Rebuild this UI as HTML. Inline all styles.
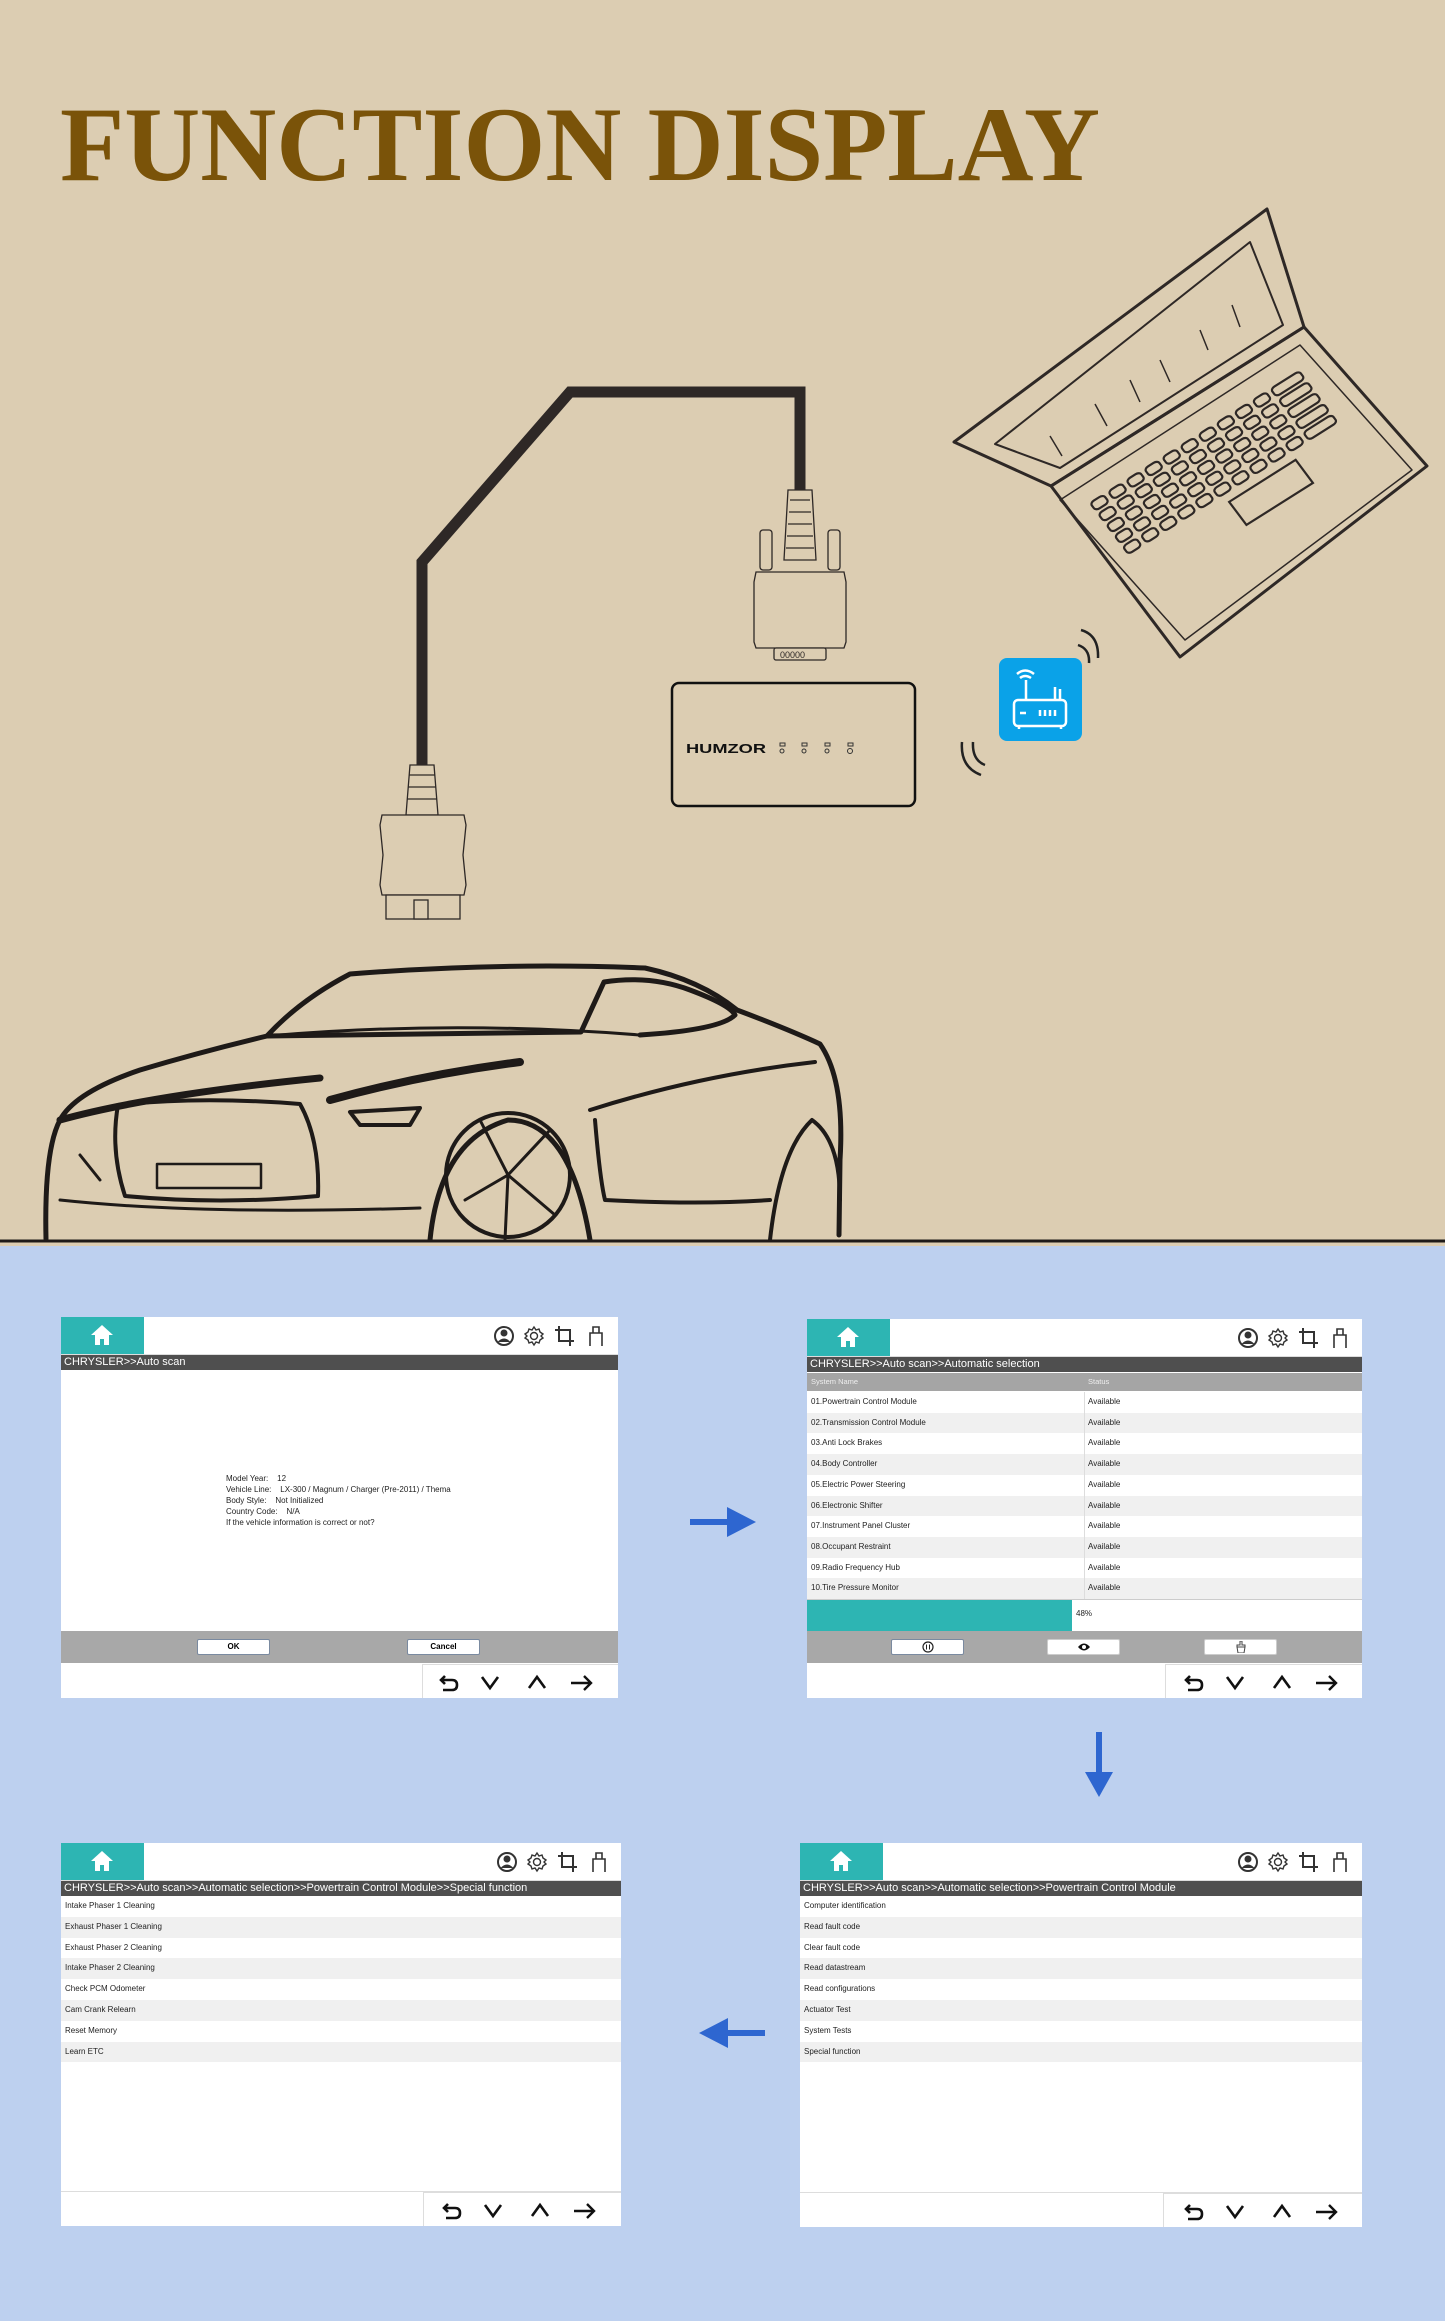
<!DOCTYPE html>
<html><head><meta charset="utf-8">
<style>
*{margin:0;padding:0;box-sizing:border-box}
body{width:1445px;height:2321px;position:relative;overflow:hidden;background:#bdd0ef;font-family:"Liberation Sans",Arial,sans-serif}
#top{position:absolute;left:0;top:0;width:1445px;height:1246px;background:#dccdb2}
.scr{position:absolute;background:#fff;overflow:hidden}
.home{position:absolute;left:0;top:0;width:83px;height:37px;background:#2db5b3}
.home svg{position:absolute;left:30px;top:8px}
.hline{position:absolute;left:0;right:0;top:37px;height:2px;background:#ddd}
.bar{position:absolute;left:0;right:0;top:38px;height:15px;background:#4f4f4f;color:#fff;font-size:11px;line-height:14px;padding-left:3px;white-space:nowrap}
.icons{position:absolute;right:4px;top:8px}
.nav{position:absolute;right:0;bottom:0;height:34px;border-left:1px solid #ddd;border-top:1px solid #ddd}
.row{position:absolute;left:0;right:0;height:20.8px;font-size:8px;line-height:20.8px;padding-left:4px;color:#222;white-space:nowrap}
.row:nth-child(even){background:#f0f0f0}
.gray{position:absolute;left:0;right:0;height:32px;background:#a8a8a8}
.btn{position:absolute;top:8px;height:16px;background:#fff;border:1px solid #7a8aa0;border-radius:2px;font-size:8px;font-weight:bold;text-align:center;line-height:14px}
</style></head><body>
<svg width="0" height="0" style="position:absolute">
<defs>
<symbol id="hi" viewBox="0 0 120 22">
<circle cx="10" cy="11" r="9" fill="none" stroke="#333" stroke-width="2"/><circle cx="10" cy="8" r="3.5" fill="#333"/><path d="M3.5 17 Q10 10 16.5 17" fill="#333"/>
<g transform="translate(40,11)" fill="none" stroke="#333" stroke-width="1.4"><circle r="3.5"/><path d="M0-9 L2-6 L5-7 L6-4 L9-2 L7 0 L9 2 L6 4 L5 7 L2 6 L0 9 L-2 6 L-5 7 L-6 4 L-9 2 L-7 0 L-9-2 L-6-4 L-5-7 L-2-6Z"/></g>
<path d="M65 1 V16 H80 M61 5 H76 V21" fill="none" stroke="#333" stroke-width="2"/>
<path d="M96 21 V8 H108 V21 M99 8 V2 H105 V8" fill="none" stroke="#333" stroke-width="1.6"/>
</symbol>
<symbol id="nv" viewBox="0 0 160 22">
<path d="M6 4 L2 8 L6 12 M2 8 H13 Q18 8 18 13 Q18 18 13 18 H4" fill="none" stroke="#111" stroke-width="2.6"/>
<path d="M43 5 L51 16 L59 5" fill="none" stroke="#111" stroke-width="2.6"/>
<path d="M90 16 L98 5 L106 16" fill="none" stroke="#111" stroke-width="2.6"/>
<path d="M132 11 H151 M145 4 L152 11 L145 18" fill="none" stroke="#111" stroke-width="2.4"/>
</symbol>
<symbol id="house" viewBox="0 0 22 20"><path d="M11 0 L22 10 H18 V20 H13 V14 H9 V20 H4 V10 H0Z" fill="#fff"/></symbol>
</defs></svg>

<div id="top">
<svg width="1445" height="1246" style="position:absolute;left:0;top:0">
<text x="60" y="180" font-family="Liberation Serif,serif" font-weight="bold" font-size="106" fill="#7a5309" textLength="1040" lengthAdjust="spacingAndGlyphs">FUNCTION DISPLAY</text>
<polyline points="422,765 422,562 570,392 800,392 800,492" fill="none" stroke="#2e2826" stroke-width="11"/>
<g fill="#dccdb2" stroke="#2e2826" stroke-width="1.3">
<path d="M788 490 h24 l4 70 h-32z"/>
<path d="M790 500 h20 M789 512 h22 M788 524 h24 M787 536 h26 M786 548 h28" />
<rect x="760" y="530" width="12" height="40" rx="3"/><rect x="828" y="530" width="12" height="40" rx="3"/>
<path d="M756 572 h88 l2 10 v60 l-2 6 h-88 l-2-6 v-60z"/>
<rect x="774" y="648" width="52" height="12" rx="2"/>
<text x="780" y="658" font-size="9" fill="#2e2826" stroke="none" font-family="Liberation Sans,sans-serif">00000</text>
</g>
<g fill="#dccdb2" stroke="#2e2826" stroke-width="1.3">
<path d="M410 765 h24 l4 50 h-32z"/>
<path d="M409 775 h26 M408 787 h28 M407 799 h30"/>
<path d="M382 815 h82 l2 10 l-3 30 l3 30 l-2 10 h-82 l-2-10 l3-30 l-3-30z"/>
<rect x="386" y="895" width="74" height="24"/>
<rect x="414" y="900" width="14" height="19"/>
</g>
<rect x="672" y="683" width="243" height="123" rx="7" fill="none" stroke="#111" stroke-width="2.5"/>
<text x="686" y="753" font-family="Liberation Sans,sans-serif" font-weight="bold" font-size="13" fill="#111" textLength="80" lengthAdjust="spacingAndGlyphs">HUMZOR</text>
<g fill="none" stroke="#333" stroke-width="1"><rect x="780" y="743" width="5" height="3"/><rect x="802" y="743" width="5" height="3"/><rect x="825" y="743" width="5" height="3"/><rect x="848" y="743" width="5" height="3"/><circle cx="782" cy="751" r="2"/><circle cx="804" cy="751" r="2"/><circle cx="827" cy="751" r="2"/><circle cx="850" cy="751" r="2.5"/></g>
<rect x="999" y="658" width="83" height="83" rx="8" fill="#0aa2e8"/>
<g fill="none" stroke="#fff" stroke-width="2.5"><rect x="1014" y="700" width="52" height="26" rx="4"/><path d="M1026 700 V680 M1055 700 V687 M1060 700 V689"/><path d="M1017 674 q8-7 17 0 M1020 678 q5-4 11 0"/><path d="M1020 713 h6 M1040 710 v6 M1045 710 v6 M1050 710 v6 M1055 710 v6"/><path d="M1019 726 v3 M1061 726 v3"/></g>
<g fill="none" stroke="#222" stroke-width="2.5"><path d="M1081 630 q18 5 17 28 M1078 645 q12 4 11 18"/><path d="M981 775 q-21-8-19-33 M985 765 q-13-5-12-23"/></g>
<g fill="none" stroke="#2e2826" stroke-width="3" stroke-linejoin="round">
<path d="M954 442 L1267 209 L1304 327 L1051 486 Z"/>
<path d="M995 444 L1250 242 L1283 325 L1060 468 Z" stroke-width="2"/>
<path d="M1051 486 L1304 327 L1427 466 L1180 657 Z"/>
<path d="M1060 500 L1300 345 L1412 470 L1185 640 Z" stroke-width="1.5"/>
<path d="M1050 436 l12 20 M1095 404 l12 22 M1130 380 l10 22 M1160 360 l10 22 M1200 330 l8 20 M1232 305 l8 22" stroke-width="1.5"/>
</g>
<g transform="matrix(0.95 -0.6 0.48 0.64 1090 503)" fill="none" stroke="#2e2826" stroke-width="2.2" vector-effect="non-scaling-stroke">
<g id="krow"><rect x="0" y="0" width="14" height="12" rx="4" vector-effect="non-scaling-stroke"/><rect x="19" y="0" width="14" height="12" rx="4" vector-effect="non-scaling-stroke"/><rect x="38" y="0" width="14" height="12" rx="4" vector-effect="non-scaling-stroke"/><rect x="57" y="0" width="14" height="12" rx="4" vector-effect="non-scaling-stroke"/><rect x="76" y="0" width="14" height="12" rx="4" vector-effect="non-scaling-stroke"/><rect x="95" y="0" width="14" height="12" rx="4" vector-effect="non-scaling-stroke"/><rect x="114" y="0" width="14" height="12" rx="4" vector-effect="non-scaling-stroke"/><rect x="133" y="0" width="14" height="12" rx="4" vector-effect="non-scaling-stroke"/><rect x="152" y="0" width="14" height="12" rx="4" vector-effect="non-scaling-stroke"/><rect x="171" y="0" width="14" height="12" rx="4" vector-effect="non-scaling-stroke"/><rect x="190" y="0" width="30" height="12" rx="4" vector-effect="non-scaling-stroke"/></g>
<use href="#krow" y="17"/><use href="#krow" y="34"/><use href="#krow" y="51"/><use href="#krow" y="68"/>
<rect x="100" y="92" width="70" height="36" vector-effect="non-scaling-stroke"/>
</g>
<g fill="none" stroke="#1e1a18" stroke-width="5" stroke-linecap="round" stroke-linejoin="round">
<path d="M46 1239 Q44 1150 60 1120 Q75 1092 140 1070 Q200 1052 267 1036 Q300 1000 350 974 Q500 962 645 968 Q700 980 737 1010 Q790 1030 820 1044 Q845 1080 840 1160 L839 1235"/>
<path d="M267 1036 L581 1032 L604 982 M604 982 Q650 975 690 990 Q730 1005 735 1015 Q720 1030 640 1035"/>
<path d="M267 1036 Q450 1020 640 1035" stroke-width="3"/>
<path d="M60 1120 Q150 1095 320 1078" stroke-width="7"/>
<path d="M330 1100 Q420 1075 520 1062" stroke-width="8"/>
<path d="M350 1112 L420 1108 L410 1125 L360 1125 Z" stroke-width="4"/>
<path d="M118 1105 Q200 1096 300 1104 Q320 1140 318 1196 Q220 1205 125 1196 Q110 1150 118 1105 Z" stroke-width="4"/>
<rect x="157" y="1164" width="104" height="24" stroke-width="2.5"/>
<path d="M80 1155 L100 1180 M60 1200 Q200 1215 420 1208" stroke-width="3"/>
<path d="M430 1240 Q440 1140 508 1120 Q570 1120 590 1240" stroke-width="5"/>
<circle cx="508" cy="1175" r="62" stroke-width="4"/>
<path d="M508 1175 L480 1120 M508 1175 L550 1130 M508 1175 L465 1200 M508 1175 L555 1215 M508 1175 L505 1240" stroke-width="3"/>
<path d="M590 1110 Q700 1075 815 1062" stroke-width="4"/>
<path d="M595 1120 Q600 1180 605 1200 Q700 1205 770 1200" stroke-width="4"/>
<path d="M770 1240 Q780 1150 812 1120 Q840 1140 840 1200" stroke-width="4"/>
<path d="M0 1241 H1445" stroke-width="3"/>
</g>
</svg>
</div>

<svg width="1445" height="2321" style="position:absolute;left:0;top:0;pointer-events:none">
<g fill="#2e66d0"><rect x="690" y="1519" width="40" height="6"/><path d="M727 1507 L756 1522 L727 1537Z"/>
<rect x="1096" y="1732" width="6" height="44"/><path d="M1085 1772 L1113 1772 L1099 1797Z"/>
<rect x="725" y="2030" width="40" height="6"/><path d="M728 2018 L699 2033 L728 2048Z"/></g>
</svg>

<div class="scr" style="left:61px;top:1317px;width:557px;height:381px">
<div class="hline"></div><div class="home"><svg width="22" height="20"><use href="#house"/></svg></div>
<svg class="icons" width="120" height="22"><use href="#hi"/></svg>
<div class="bar">CHRYSLER&gt;&gt;Auto scan</div>
<div style="position:absolute;left:165px;top:156px;font-size:8px;line-height:11px;color:#222;white-space:pre">Model Year:    12
Vehicle Line:    LX-300 / Magnum / Charger (Pre-2011) / Thema
Body Style:    Not Initialized
Country Code:    N/A
If the vehicle information is correct or not?</div>
<div class="gray" style="top:314px"><div class="btn" style="left:136px;width:73px">OK</div><div class="btn" style="left:346px;width:73px">Cancel</div></div>
<div class="nav" style="width:196px"><svg style="position:absolute;left:16px;top:7px" width="160" height="22"><use href="#nv"/></svg></div>
</div>

<div class="scr" style="left:807px;top:1319px;width:555px;height:379px">
<div class="hline"></div><div class="home"><svg width="22" height="20"><use href="#house"/></svg></div>
<svg class="icons" width="120" height="22"><use href="#hi"/></svg>
<div class="bar">CHRYSLER&gt;&gt;Auto scan&gt;&gt;Automatic selection</div>
<div style="position:absolute;left:0;right:0;top:54px;height:18px;background:#a5a5a5;color:#eee;font-size:7.5px;line-height:18px"><span style="position:absolute;left:4px">System Name</span><span style="position:absolute;left:281px">Status</span></div>
<div style="position:absolute;left:0;right:0;top:73px;height:208px">
<div class="row" style="top:0">01.Powertrain Control Module</div>
<div class="row" style="top:20.7px">02.Transmission Control Module</div>
<div class="row" style="top:41.4px">03.Anti Lock Brakes</div>
<div class="row" style="top:62.1px">04.Body Controller</div>
<div class="row" style="top:82.8px">05.Electric Power Steering</div>
<div class="row" style="top:103.5px">06.Electronic Shifter</div>
<div class="row" style="top:124.2px">07.Instrument Panel Cluster</div>
<div class="row" style="top:144.9px">08.Occupant Restraint</div>
<div class="row" style="top:165.6px">09.Radio Frequency Hub</div>
<div class="row" style="top:186.3px">10.Tire Pressure Monitor</div>
<div style="position:absolute;left:277px;top:0;width:1px;height:207px;background:#ddd"></div>
<div style="position:absolute;left:281px;top:0;font-size:8px;line-height:20.7px;color:#222">Available<br>Available<br>Available<br>Available<br>Available<br>Available<br>Available<br>Available<br>Available<br>Available</div>
</div>
<div style="position:absolute;left:0;right:0;top:280px;height:1px;background:#ccc"></div>
<div style="position:absolute;left:0;top:281px;width:265px;height:31px;background:#2db5b3"></div>
<div style="position:absolute;left:269px;top:290px;font-size:8px;color:#222">48%</div>
<div class="gray" style="top:312px">
<div class="btn" style="left:84px;width:73px"><svg width="12" height="12" style="margin-top:1px"><circle cx="6" cy="6" r="5" fill="none" stroke="#222" stroke-width="1.2"/><path d="M4.5 3.5v5M7.5 3.5v5" stroke="#222"/></svg></div>
<div class="btn" style="left:240px;width:73px;border-color:#ccc"><svg width="14" height="12" style="margin-top:1px"><path d="M1 6 Q7 -1 13 6 Q7 13 1 6Z" fill="#111"/><circle cx="7" cy="6" r="2" fill="#fff"/></svg></div>
<div class="btn" style="left:397px;width:73px;border-color:#ccc"><svg width="12" height="12" style="margin-top:1px"><path d="M5 0h2v4h3v2H2V4h3z M2 6h8l-1 6H3z" fill="none" stroke="#444"/></svg></div>
</div>
<div class="nav" style="width:197px"><svg style="position:absolute;left:18px;top:7px" width="160" height="22"><use href="#nv"/></svg></div>
</div>

<div class="scr" style="left:61px;top:1843px;width:560px;height:383px">
<div class="hline"></div><div class="home"><svg width="22" height="20"><use href="#house"/></svg></div>
<svg class="icons" width="120" height="22"><use href="#hi"/></svg>
<div class="bar">CHRYSLER&gt;&gt;Auto scan&gt;&gt;Automatic selection&gt;&gt;Powertrain Control Module&gt;&gt;Special function</div>
<div style="position:absolute;left:0;right:0;top:53px;height:170px">
<div class="row" style="top:0">Intake Phaser 1 Cleaning</div>
<div class="row" style="top:20.8px">Exhaust Phaser 1 Cleaning</div>
<div class="row" style="top:41.6px">Exhaust Phaser 2 Cleaning</div>
<div class="row" style="top:62.4px">Intake Phaser 2 Cleaning</div>
<div class="row" style="top:83.2px">Check PCM Odometer</div>
<div class="row" style="top:104px">Cam Crank Relearn</div>
<div class="row" style="top:124.8px">Reset Memory</div>
<div class="row" style="top:145.6px">Learn ETC</div>
</div>
<div class="nav" style="width:198px"><svg style="position:absolute;left:18px;top:7px" width="160" height="22"><use href="#nv"/></svg></div>
<div style="position:absolute;left:0;right:0;bottom:34px;height:1px;background:#ddd"></div>
</div>

<div class="scr" style="left:800px;top:1843px;width:562px;height:384px">
<div class="hline"></div><div class="home"><svg width="22" height="20"><use href="#house"/></svg></div>
<svg class="icons" width="120" height="22"><use href="#hi"/></svg>
<div class="bar">CHRYSLER&gt;&gt;Auto scan&gt;&gt;Automatic selection&gt;&gt;Powertrain Control Module</div>
<div style="position:absolute;left:0;right:0;top:53px;height:170px">
<div class="row" style="top:0">Computer identification</div>
<div class="row" style="top:20.8px">Read fault code</div>
<div class="row" style="top:41.6px">Clear fault code</div>
<div class="row" style="top:62.4px">Read datastream</div>
<div class="row" style="top:83.2px">Read configurations</div>
<div class="row" style="top:104px">Actuator Test</div>
<div class="row" style="top:124.8px">System Tests</div>
<div class="row" style="top:145.6px">Special function</div>
</div>
<div class="nav" style="width:199px"><svg style="position:absolute;left:20px;top:7px" width="160" height="22"><use href="#nv"/></svg></div>
<div style="position:absolute;left:0;right:0;bottom:34px;height:1px;background:#ddd"></div>
</div>
</body></html>
